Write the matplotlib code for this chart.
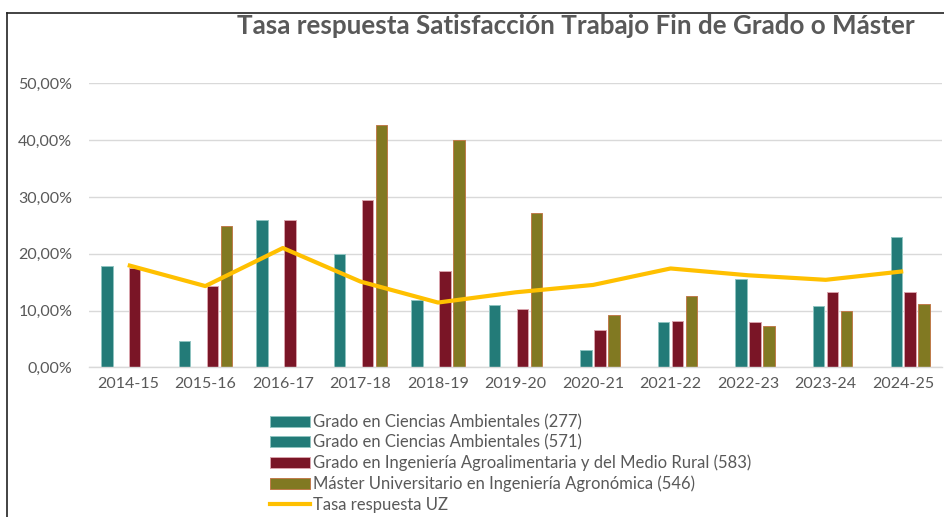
import numpy as np
import matplotlib
matplotlib.use("Agg")
import matplotlib.pyplot as plt
from matplotlib.lines import Line2D
from matplotlib.patches import Patch
from matplotlib.ticker import FuncFormatter, MultipleLocator

nan = np.nan

# Academic years (x categories)
years = ["2014-15", "2015-16", "2016-17", "2017-18", "2018-19", "2019-20",
         "2020-21", "2021-22", "2022-23", "2023-24", "2024-25"]

# Response rates in percent
ciencias_277 = [17.8, 4.7, 26.0, 19.9, 11.9, 11.0, nan, nan, nan, nan, nan]
ciencias_571 = [nan, nan, nan, nan, nan, nan, 3.1, 8.0, 15.5, 10.8, 22.9]
agroalimentaria_583 = [17.5, 14.3, 26.0, 29.4, 17.0, 10.3, 6.5, 8.2, 8.0, 13.2, 13.2]
master_546 = [nan, 24.8, nan, 42.6, 40.0, 27.1, 9.2, 12.5, 7.2, 9.9, 11.1]
tasa_uz = [18.0, 14.3, 21.0, 15.1, 11.4, 13.2, 14.5, 17.4, 16.2, 15.4, 16.9]

labels = ["Grado en Ciencias Ambientales (277)",
          "Grado en Ciencias Ambientales (571)",
          "Grado en Ingeniería Agroalimentaria y del Medio Rural (583)",
          "Máster Universitario en Ingeniería Agronómica (546)",
          "Tasa respuesta UZ"]

TEAL = "#237B78"
MAROON = "#7A1526"
OLIVE = "#817922"
GOLD = "#FFC000"
GREY_TXT = "#595959"
GRID = "#D9D9D9"

plt.rcParams["font.family"] = ["Lato", "DejaVu Sans"]

fig = plt.figure(figsize=(9.45, 5.17), dpi=100)
ax = fig.add_axes([89 / 945, 1 - 367.3 / 517, (942 - 89) / 945, (367.3 - 83.3) / 517])

x = np.arange(len(years))
w = 0.148
step = 0.18
series = [
    (ciencias_277, TEAL, "#8FC4C1"),
    (ciencias_571, TEAL, "#8FC4C1"),
    (agroalimentaria_583, MAROON, "#D9A3AC"),
    (master_546, OLIVE, "#C07A4A"),
]
for i, (vals, col, edge) in enumerate(series):
    offset = (i - 1.5) * step
    ax.bar(x + offset, vals, width=w, color=col, edgecolor=edge, linewidth=0.7, zorder=2)

ax.plot(x, tasa_uz, color=GOLD, linewidth=3.0, solid_capstyle="butt", zorder=3)

ax.set_xlim(-0.5, len(years) - 0.5)
ax.set_ylim(0, 50)
ax.yaxis.set_major_locator(MultipleLocator(10))
ax.yaxis.set_major_formatter(FuncFormatter(lambda v, p: f"{v:.2f}%".replace(".", ",")))
ax.set_xticks(x)
ax.set_xticklabels(years)
ax.grid(axis="y", color=GRID, linewidth=1.0, zorder=0)
ax.set_axisbelow(True)
for s in ["top", "right", "left"]:
    ax.spines[s].set_visible(False)
ax.spines["bottom"].set_color(GRID)
ax.spines["bottom"].set_linewidth(1.0)
ax.tick_params(axis="both", length=0, labelsize=11.5, labelcolor=GREY_TXT)
ax.tick_params(axis="y", pad=12)
ax.tick_params(axis="x", pad=7)

# Title
fig.text(576 / 945, 1 - 26 / 517, "Tasa respuesta Satisfacción Trabajo Fin de Grado o Máster",
         ha="center", va="center", fontsize=18.7, fontweight="bold", color=GREY_TXT)

# Legend under the plot, one column
handles = [Patch(facecolor=TEAL, edgecolor="#8FC4C1", linewidth=0.7),
           Patch(facecolor=TEAL, edgecolor="#8FC4C1", linewidth=0.7),
           Patch(facecolor=MAROON, edgecolor="#D9A3AC", linewidth=0.7),
           Patch(facecolor=OLIVE, edgecolor="#C07A4A", linewidth=0.7),
           Line2D([0], [0], color=GOLD, linewidth=3.0)]
leg = fig.legend(handles, labels, loc="upper left", bbox_to_anchor=(270 / 945, 1 - 414 / 517),
                 frameon=False, fontsize=12, labelcolor=GREY_TXT, handlelength=2.4,
                 handleheight=0.6, handletextpad=0.2, labelspacing=0.26, borderpad=0,
                 borderaxespad=0)

# Outer chart frame (left and top edges visible in the reference)
fig.add_artist(Line2D([7.5 / 945, 7.5 / 945], [0, 1 - 13 / 517], color="#222222", linewidth=1.2,
                      transform=fig.transFigure))
fig.add_artist(Line2D([7.5 / 945, 1], [1 - 13 / 517, 1 - 13 / 517], color="#222222", linewidth=1.2,
                      transform=fig.transFigure))

fig.savefig("out.png", dpi=100)
